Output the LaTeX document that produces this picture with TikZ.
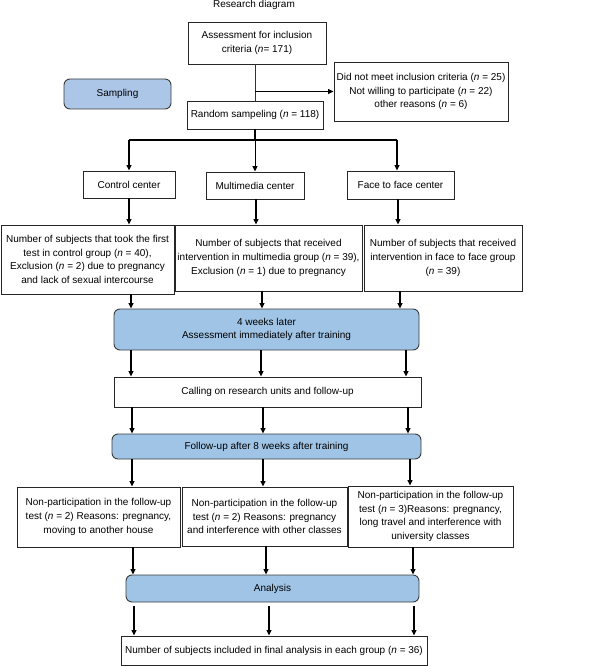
\documentclass[tikz,border=0pt]{standalone}
\usepackage{fontspec}
\setmainfont{Liberation Sans}
\usetikzlibrary{arrows.meta}
\definecolor{boxblue}{RGB}{160,196,230}
\definecolor{sampblue}{RGB}{172,198,232}
\definecolor{edgegray}{RGB}{60,60,60}
\tikzset{
  wh/.style n args={2}{minimum width=#1*0.75pt, minimum height=#2*0.75pt},
  plainbox/.style={draw=black!85, line width=0.7pt, fill=white},
  bluebox/.style={draw=edgegray, line width=0.7pt, fill=boxblue, rounded corners=4.5pt},
  arr/.style={draw=black, line width=1.1pt, -{Triangle[length=4pt,width=3.6pt]}},
  link/.style={draw=black, line width=1.1pt}
}
\begin{document}
\begin{tikzpicture}[x=0.75pt,y=-0.75pt,
  every node/.style={font=\fontsize{7.5}{10.3}\selectfont, align=center, inner sep=0pt}]
\useasboundingbox (0,0) rectangle (606,666);
\fill[white] (0,0) rectangle (606,666);

\node[anchor=base] (title) at (254,7.7) {Research diagram};

\node[plainbox, wh={138}{42}] (assess) at (257,43) {Assessment for inclusion\\criteria (\textit{n}= 171)};
\node[bluebox, fill=sampblue, wh={107}{30}] (sampling) at (117.5,94) {Sampling};
\node[plainbox, wh={174}{59}] (excl) at (421,91.5) {Did not meet inclusion criteria (\textit{n} = 25)\\Not willing to participate (\textit{n} = 22)\\other reasons (\textit{n} = 6)};
\node[plainbox, wh={136}{28}] (random) at (255,115) {Random sampeling (\textit{n} = 118)};

\node[plainbox, wh={92}{27}] (control) at (129,184.5) {Control center};
\node[plainbox, wh={98}{27}] (multi) at (255,185.5) {Multimedia center};
\node[plainbox, wh={107}{28}] (face) at (400.5,185) {Face to face center};

\node[plainbox, wh={173}{69}] (ctext) at (87.5,259.5) {Number of subjects that took the first\\test in control group (\textit{n} = 40),\\Exclusion (\textit{n} = 2) due to pregnancy\\and lack of sexual intercourse};
\node[plainbox, wh={187}{66}] (mtext) at (268.5,258) {Number of subjects that received\\intervention in multimedia group (\textit{n} = 39),\\Exclusion (\textit{n} = 1) due to pregnancy};
\node[plainbox, wh={158}{66}] (ftext) at (443,258) {Number of subjects that received\\intervention in face to face group\\(\textit{n} = 39)};

\node[bluebox, wh={305}{41}] (weeks) at (266.5,329.5) {4 weeks later\\Assessment immediately after training};
\node[plainbox, wh={307}{30}] (calling) at (267.5,392) {Calling on research units and follow-up};
\node[bluebox, wh={309}{25}] (follow) at (266.5,446.5) {Follow-up after 8 weeks after training};

\node[plainbox, wh={163}{60}] (np1) at (98.5,517) {Non-participation in the follow-up\\test (\textit{n} = 2) Reasons: pregnancy,\\moving to another house};
\node[plainbox, wh={165}{59}] (np2) at (264.5,516.5) {Non-participation in the follow-up\\test (\textit{n} = 2) Reasons: pregnancy\\and interference with other classes};
\node[plainbox, wh={165}{61}] (np3) at (430.5,516.5) {Non-participation in the follow-up\\test (\textit{n} = 3)Reasons: pregnancy,\\long travel and interference with\\university classes};

\node[bluebox, wh={293}{27}] (analysis) at (272.5,588.5) {Analysis};
\node[plainbox, wh={306}{29}] (final) at (274,650.5) {Number of subjects included in final analysis in each group (\textit{n} = 36)};

% top part
\draw[black!80, line width=0.6pt] (assess.south -| random.north) -- (random.north);
\draw[arr] (random.north |- excl.west) -- (excl.west);
\draw[link] (random.south) -- (random.south |- 0,140) coordinate (br);
\draw[link] (control.north |- br) -- (br -| 397,0);
\draw[arr] (control.north |- br) -- (control.north);
\draw[arr, line width=0.7pt] (br) -- (multi.north);
\draw[arr] (br -| 397,0) -- (face.north -| 397,0);

% centers to texts
\draw[arr] (control.south) -- (ctext.north -| control.south);
\draw[arr] (multi.south -| 256,0) -- (mtext.north -| 256,0);
\draw[arr] (face.south -| 398,0) -- (ftext.north -| 398,0);

% texts to weeks
\draw[arr] (ctext.south -| 131,0) -- (weeks.north -| 131,0);
\draw[arr] (mtext.south -| 262,0) -- (weeks.north -| 262,0);
\draw[arr] (ftext.south -| 400,0) -- (weeks.north -| 400,0);

% weeks to calling
\draw[arr] (weeks.south -| 131,0) -- (calling.north -| 131,0);
\draw[arr] (weeks.south -| 261,0) -- (calling.north -| 261,0);
\draw[arr] (weeks.south -| 406,0) -- (calling.north -| 406,0);

% calling to follow
\draw[arr] (calling.south -| 132,0) -- (follow.north -| 132,0);
\draw[arr] (calling.south -| 263,0) -- (follow.north -| 263,0);
\draw[arr] (calling.south -| 408,0) -- (follow.north -| 408,0);

% follow to np
\draw[arr] (follow.south -| 132,0) -- (np1.north -| 132,0);
\draw[arr] (follow.south -| 263,0) -- (np2.north -| 263,0);
\draw[arr] (follow.south -| 410,0) -- (np3.north -| 410,0);

% np to analysis
\draw[arr] (np1.south -| 133,0) -- (analysis.north -| 133,0);
\draw[arr] (np2.south -| 266,0) -- (analysis.north -| 266,0);
\draw[arr] (np3.south -| 413,0) -- (analysis.north -| 413,0);

% analysis to final
\draw[arr, shorten <=3pt] (analysis.south -| 134,0) -- (final.north -| 134,0);
\draw[arr, shorten <=3pt] (analysis.south -| 269,0) -- (final.north -| 269,0);
\draw[arr, shorten <=3pt] (analysis.south -| 414,0) -- (final.north -| 414,0);
\end{tikzpicture}
\end{document}
